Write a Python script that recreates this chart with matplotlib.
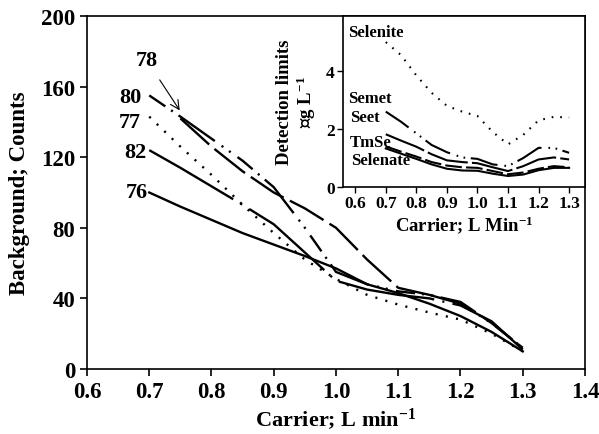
import numpy as np
import matplotlib
matplotlib.use("Agg")
import matplotlib.pyplot as plt

plt.rcParams['font.family'] = ['Liberation Serif', 'DejaVu Serif']
plt.rcParams['font.weight'] = 'bold'
plt.rcParams['lines.scale_dashes'] = False
plt.rcParams['mathtext.fontset'] = 'custom'
plt.rcParams['mathtext.rm'] = 'Liberation Serif:bold'
plt.rcParams['mathtext.it'] = 'Liberation Serif:bold'
plt.rcParams['mathtext.bf'] = 'Liberation Serif:bold'
plt.rcParams['mathtext.default'] = 'rm'

# ---- main chart data ----
carrier = [0.70, 0.75, 0.80, 0.85, 0.90, 0.95, 1.00, 1.05, 1.10, 1.15, 1.20, 1.25, 1.30]
bg_76 = [100, 92, 84.5, 77, 70.5, 64, 57, 48, 43, 37, 30, 21, 10]
bg_77 = [143, 126, 110, 93, 77, 62, 51, 42, 36.5, 32, 28, 20, 10]
bg_82 = [124, 114, 103.5, 93, 82, 66, 50, 45, 42, 40, 36, 27, 11]
bg_80 = [155, 143, 130.5, 118, 103, 80, 55, 48, 44, 42, 37, 26, 12]
bg_78 = [np.nan, 142, 126, 112, 100, 91, 80, 62, 46, 42, 38, 26, 12]
main_labels = ["76", "77", "82", "80", "78"]

# ---- inset data ----
carrier_in = [0.70, 0.75, 0.80, 0.85, 0.90, 0.95, 1.00, 1.05, 1.10, 1.15, 1.20, 1.25, 1.30]
dl_selenite = [5.0, 4.55, 3.85, 3.25, 2.8, 2.6, 2.45, 1.9, 1.47, 1.8, 2.3, 2.42, 2.4]
dl_semet = [2.6, 2.25, 1.85, 1.45, 1.2, 1.02, 0.97, 0.78, 0.72, 1.0, 1.35, 1.35, 1.18]
dl_seet = [1.82, 1.6, 1.39, 1.13, 0.92, 0.86, 0.82, 0.68, 0.55, 0.72, 0.95, 1.02, 0.95]
dl_tmse = [1.4, 1.22, 1.05, 0.86, 0.74, 0.68, 0.66, 0.55, 0.44, 0.5, 0.63, 0.72, 0.68]
dl_selenate = [1.33, 1.15, 0.97, 0.78, 0.63, 0.57, 0.56, 0.46, 0.38, 0.43, 0.58, 0.66, 0.66]
inset_labels = ["Selenite", "Semet", "Seet", "TmSe", "Selenate"]

W, H = 599, 435
fig = plt.figure(figsize=(W / 100, H / 100), dpi=100)

ax = fig.add_axes([87 / W, 1 - 370 / H, (585 - 87) / W, (370 - 17) / H])
lw = 1.7
ax.plot(carrier, bg_76, color='black', lw=lw, linestyle='-')
ax.plot(carrier, bg_77, color='black', lw=lw, linestyle=(0, (1.5, 6)))
ax.plot(carrier, bg_82, color='black', lw=lw, linestyle=(0, (70, 6, 1.5, 6)))
ax.plot(carrier, bg_80, color='black', lw=lw, linestyle=(0, (14, 5, 1.5, 5, 32, 6, 1.5, 5, 1.5, 6)))
ax.plot(carrier, bg_78, color='black', lw=lw, linestyle=(0, (28, 5)))

ax.set_xlim(0.6, 1.4)
ax.set_ylim(0, 200)
ax.set_xticks(np.arange(0.6, 1.41, 0.1))
ax.set_xticklabels([f"{v:.1f}" for v in np.arange(0.6, 1.41, 0.1)])
ax.set_yticks(np.arange(0, 201, 40))
ax.tick_params(axis='both', labelsize=16.5, direction='out', length=5, width=1.2)
for s in ax.spines.values():
    s.set_linewidth(1.2)
fig.text(336 / W, 1 - 427 / H, "Carrier; L min$^{-1}$", fontsize=16, fontweight='bold',
         ha='center', va='baseline')
ax.set_ylabel("Background; Counts", fontsize=16.5, fontweight='bold', labelpad=8)

fs_lab = 16
ax.text(0.669, 154, "80", fontsize=fs_lab, ha='center', va='center')
ax.text(0.669, 140, "77", fontsize=fs_lab, ha='center', va='center')
ax.text(0.677, 123, "82", fontsize=fs_lab, ha='center', va='center')
ax.text(0.680, 100.5, "76", fontsize=fs_lab, ha='center', va='center')
ax.annotate("78", xy=(0.749, 146.5), xytext=(0.696, 175), fontsize=fs_lab,
            ha='center', va='center',
            arrowprops=dict(arrowstyle='->', lw=0.8, color='black',
                            shrinkA=6, shrinkB=0))

# ---- inset ----
ai = fig.add_axes([343 / W, 1 - 188 / H, (585 - 343) / W, (188 - 17) / H])
lwi = 1.5
ai.plot(carrier_in, dl_selenite, color='black', lw=lwi, linestyle=(0, (1.2, 5)))
ai.plot(carrier_in, dl_semet, color='black', lw=lwi, linestyle=(0, (20, 5, 1.2, 4, 1.2, 4)))
ai.plot(carrier_in, dl_seet, color='black', lw=lwi, linestyle=(0, (30, 3)))
ai.plot(carrier_in, dl_tmse, color='black', lw=lwi, linestyle=(0, (12, 3)))
ai.plot(carrier_in, dl_selenate, color='black', lw=lwi, linestyle='-')
ai.set_xlim(0.56, 1.352)
ai.set_ylim(0, 5.9)
ai.set_xticks(np.arange(0.6, 1.31, 0.1))
ai.set_xticklabels([f"{v:.1f}" for v in np.arange(0.6, 1.31, 0.1)])
ai.set_yticks([0, 2, 4])
ai.tick_params(axis='both', labelsize=12.5, direction='out', length=4, width=1.0, pad=2)
for s in ai.spines.values():
    s.set_linewidth(1.2)
ai.set_xlabel("Carrier; L Min$^{-1}$", fontsize=13.5, fontweight='bold', labelpad=1)
ai.set_ylabel("Detection limits\n\u221dg L$^{-1}$", fontsize=13.5, fontweight='bold',
              labelpad=6, linespacing=1.05)

fsi = 12
lab_pos = [(0.575, 5.36), (0.575, 3.08), (0.582, 2.4), (0.582, 1.56), (0.585, 0.92)]
for name, (lx, ly) in zip(inset_labels, lab_pos):
    ai.text(lx, ly, name, fontsize=fsi, ha='left', va='center')

fig.savefig("out.png", dpi=100)
